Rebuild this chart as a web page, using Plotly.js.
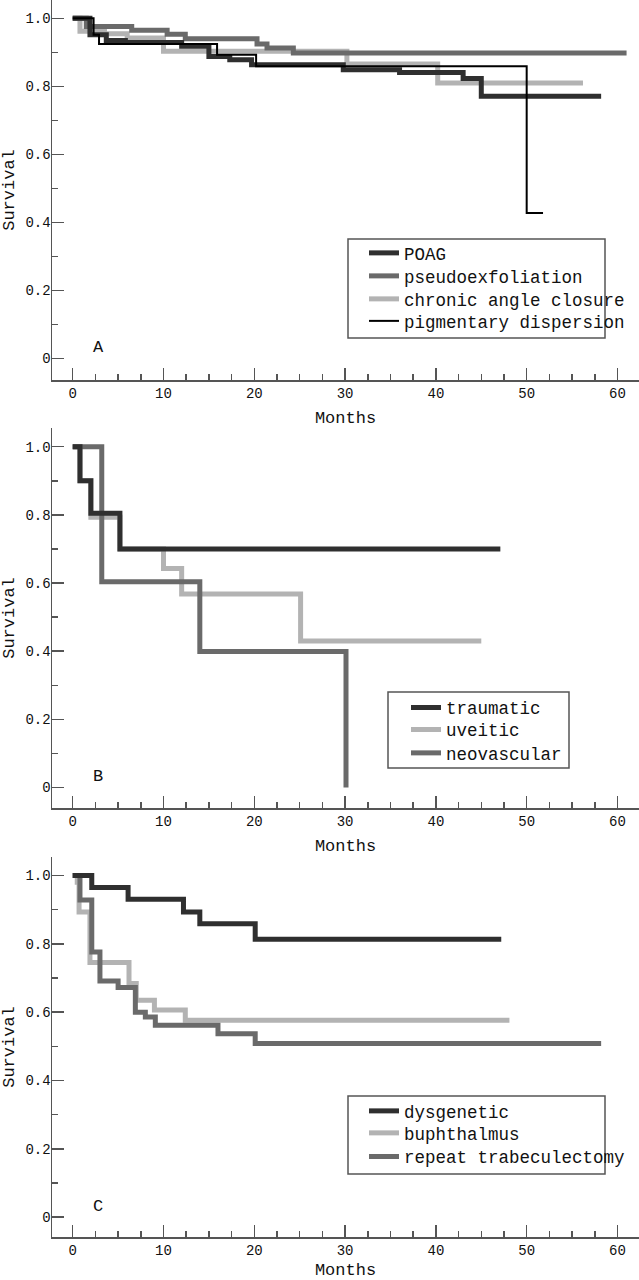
<!DOCTYPE html>
<html>
<head>
<meta charset="utf-8">
<script src="https://cdn.plot.ly/plotly-3.0.1.min.js"></script>
<style>html,body{margin:0;padding:0;background:#fff;}#chart{width:639px;height:1280px;}</style>
</head>
<body>
<div id="chart"></div>
<script>
// ---------- Panel A ----------
const monthsPOAG = [0, 1.9, 3.7, 5.8, 12.0, 15.0, 17.3, 19.7, 29.8, 36.0, 43.0, 45.0, 58.2];
const survPOAG   = [1, 0.952, 0.935, 0.929, 0.918, 0.888, 0.878, 0.864, 0.849, 0.841, 0.823, 0.771, 0.771];
const monthsPXF  = [0, 1.5, 6.5, 10.4, 12.4, 20.3, 21.4, 24.3, 61.0];
const survPXF    = [1, 0.976, 0.965, 0.953, 0.940, 0.925, 0.913, 0.898, 0.898];
const monthsCAC  = [0, 0.8, 3.5, 6.0, 10.0, 30.2, 40.2, 56.2];
const survCAC    = [1, 0.962, 0.955, 0.942, 0.903, 0.866, 0.810, 0.810];
const monthsPD   = [0, 2.3, 2.9, 15.9, 20.2, 50.0, 51.8];
const survPD     = [1, 0.952, 0.925, 0.893, 0.859, 0.428, 0.428];
// ---------- Panel B ----------
const monthsTrau = [0, 0.8, 2.0, 5.2, 47.1];
const survTrau   = [1, 0.90, 0.805, 0.70, 0.70];
const monthsUve  = [0, 0.8, 2.0, 5.2, 10.0, 12.0, 25.1, 45.0];
const survUve    = [1, 0.90, 0.793, 0.70, 0.643, 0.568, 0.43, 0.43];
const monthsNeo  = [0, 3.2, 14.0, 30.1];
const survNeo    = [1, 0.604, 0.399, 0];
// ---------- Panel C ----------
const monthsDys  = [0, 2.1, 6.1, 12.2, 14.0, 20.1, 47.2];
const survDys    = [1, 0.965, 0.930, 0.893, 0.859, 0.813, 0.813];
const monthsBup  = [0, 0.5, 0.7, 1.9, 6.2, 7.0, 9.0, 12.4, 48.1];
const survBup    = [1, 0.98, 0.893, 0.745, 0.684, 0.635, 0.606, 0.576, 0.576];
const monthsRep  = [0, 0.8, 2.1, 3.0, 5.0, 6.9, 8.0, 9.1, 16.0, 20.1, 58.2];
const survRep    = [1, 0.928, 0.776, 0.691, 0.672, 0.60, 0.586, 0.562, 0.537, 0.508, 0.508];

const yTickVals = [0, 0.2, 0.4, 0.6, 0.8, 1.0];
const yTickText = ['0', '0.2', '0.4', '0.6', '0.8', '1.0'];
const xTickVals = [0, 10, 20, 30, 40, 50, 60];
const panelLetters = ['A', 'B', 'C'];

const FONT = 'Liberation Mono, Courier New, monospace';
const DARK = '#2f2f2f', MED = '#6a6a6a', LIGHT = '#b3b3b3', BLACK = '#000000';
const AX = '#555555';

function km(x, y, name, color, width, xa, ya, leg) {
  return {x: x, y: y, name: name, type: 'scatter', mode: 'lines',
    line: {shape: 'hv', color: color, width: width},
    xaxis: xa, yaxis: ya, legend: leg, hoverinfo: 'skip'};
}

const data = [
  km(monthsCAC, survCAC, 'chronic angle closure', LIGHT, 5, 'x', 'y', 'legend3'),
  km(monthsPXF, survPXF, 'pseudoexfoliation', MED, 5, 'x', 'y', 'legend2'),
  km(monthsPOAG, survPOAG, 'POAG', DARK, 5, 'x', 'y', 'legend'),
  km(monthsPD, survPD, 'pigmentary dispersion', BLACK, 2, 'x', 'y', 'legend4'),

  km(monthsUve, survUve, 'uveitic', LIGHT, 5, 'x2', 'y2', 'legend6'),
  km(monthsNeo, survNeo, 'neovascular', MED, 5, 'x2', 'y2', 'legend7'),
  km(monthsTrau, survTrau, 'traumatic', DARK, 5, 'x2', 'y2', 'legend5'),

  km(monthsBup, survBup, 'buphthalmus', LIGHT, 5, 'x3', 'y3', 'legend9'),
  km(monthsRep, survRep, 'repeat trabeculectomy', MED, 5, 'x3', 'y3', 'legend10'),
  km(monthsDys, survDys, 'dysgenetic', DARK, 5, 'x3', 'y3', 'legend8')
];

const H = 1280, W = 639;
function py(p) { return 1 - p / H; }
function px(p) { return p / W; }

function xaxis(anchor) {
  return {
    domain: [px(52), 1], anchor: anchor, range: [-2.28, 62.37],
    showline: true, linecolor: AX, linewidth: 1.5, mirror: false,
    showgrid: false, zeroline: false,
    ticks: 'inside', ticklen: 12, tickwidth: 1.5, tickcolor: AX,
    tickmode: 'array', tickvals: xTickVals,
    minor: {dtick: 2.5, tick0: 0, ticks: 'inside', ticklen: 6, tickwidth: 1.5, tickcolor: AX, showgrid: false},
    tickfont: {family: FONT, size: 14, color: '#111'},
    title: {text: 'Months', font: {family: FONT, size: 17, color: '#111'}, standoff: 10},
    automargin: false, fixedrange: true
  };
}
function yaxis(anchor, dom, range) {
  return {
    domain: dom, anchor: anchor, range: range,
    showline: true, linecolor: AX, linewidth: 1.5,
    showgrid: false, zeroline: false,
    ticks: 'inside', ticklen: 12, tickwidth: 1.5, tickcolor: AX,
    tickmode: 'array', tickvals: yTickVals, ticktext: yTickText,
    minor: {dtick: 0.1, tick0: 0, ticks: 'inside', ticklen: 6, tickwidth: 1.5, tickcolor: AX, showgrid: false},
    tickfont: {family: FONT, size: 14, color: '#111'},
    ticklabelstandoff: -3,
    title: {text: 'Survival', font: {family: FONT, size: 17, color: '#111'}, standoff: 11},
    automargin: false, fixedrange: true
  };
}

function legendAt(xp, yp) {
  return {x: px(xp), y: py(yp), xanchor: 'left', yanchor: 'middle',
    bgcolor: 'rgba(0,0,0,0)', borderwidth: 0,
    font: {family: FONT, size: 17.5, color: '#111'},
    traceorder: 'normal', tracegroupgap: 0, itemwidth: 30};
}

function box(x0, y0, x1, y1) {
  return {type: 'rect', xref: 'paper', yref: 'paper',
    x0: px(x0), x1: px(x1), y0: py(y1), y1: py(y0),
    line: {color: AX, width: 1.5}, fillcolor: 'rgba(0,0,0,0)'};
}

const layout = {
  width: W, height: H,
  margin: {l: 0, r: 0, t: 0, b: 0},
  paper_bgcolor: '#ffffff', plot_bgcolor: '#ffffff',
  showlegend: true,
  xaxis: xaxis('y'), yaxis: yaxis('x', [py(380), 1], [-0.063, 1.054]),
  xaxis2: xaxis('y2'), yaxis2: yaxis('x2', [py(808), py(428)], [-0.060, 1.055]),
  xaxis3: xaxis('y3'), yaxis3: yaxis('x3', [py(1237), py(857)], [-0.058, 1.054]),
  legend: legendAt(364, 253),
  legend2: legendAt(364, 276),
  legend3: legendAt(364, 299),
  legend4: legendAt(364, 321),
  legend5: legendAt(406, 707.5),
  legend6: legendAt(406, 729.5),
  legend7: legendAt(406, 753),
  legend8: legendAt(364, 1111),
  legend9: legendAt(364, 1133),
  legend10: legendAt(364, 1156.5),
  shapes: [box(348, 239, 605, 338), box(388, 692, 569, 768), box(348, 1096, 605, 1174)],
  annotations: panelLetters.map(function (t, i) {
    const s = i === 0 ? '' : String(i + 1);
    return {text: t, xref: 'x' + s, yref: 'y' + s, x: 2.8, y: 0.032,
      showarrow: false, font: {family: FONT, size: 17, color: '#111'}};
  })
};

Plotly.newPlot('chart', data, layout, {displayModeBar: false, staticPlot: true});
</script>
</body>
</html>
